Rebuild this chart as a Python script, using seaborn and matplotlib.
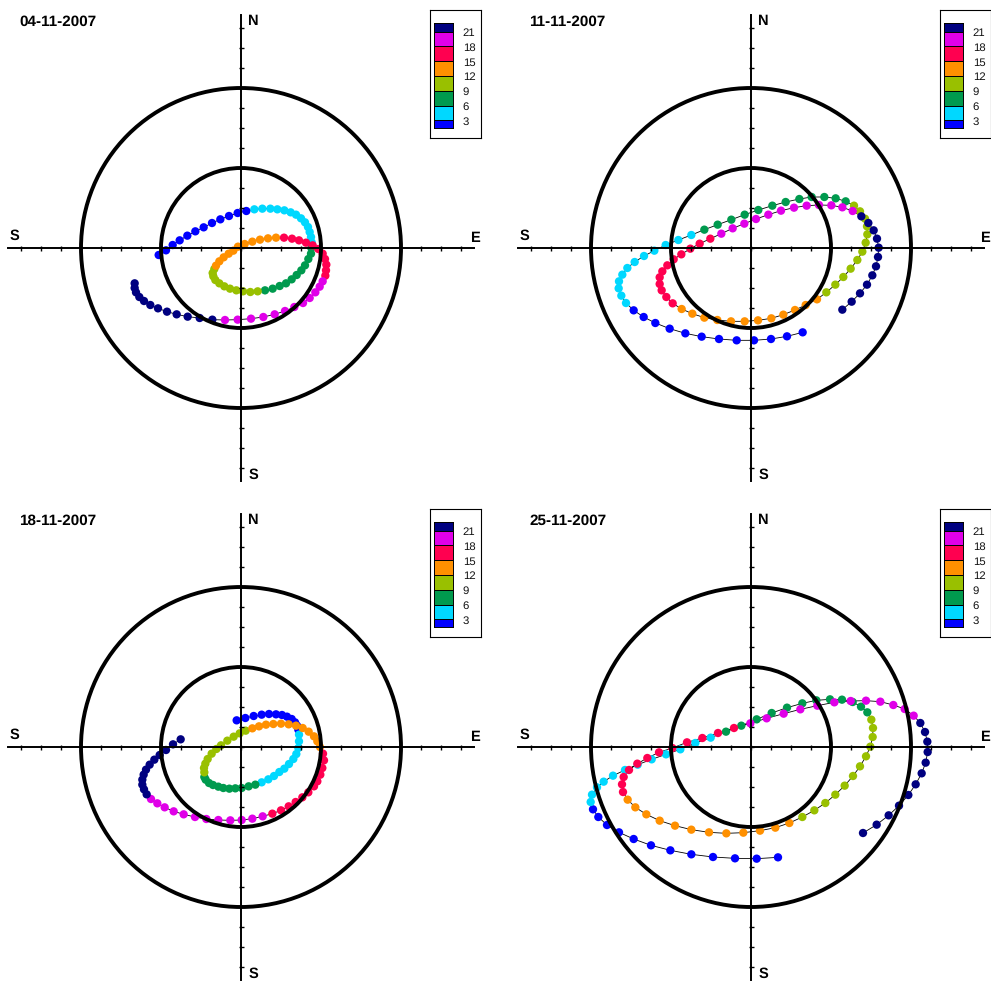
import pandas as pd
import matplotlib
matplotlib.use("Agg")
import matplotlib.pyplot as plt
import seaborn as sns

# 60 units = one axis tick, rings at 240 and 480
dates = ["04-11-2007", "11-11-2007", "18-11-2007", "25-11-2007"]
bands = ["0-3", "3-6", "6-9", "9-12", "12-15", "15-18", "18-21", "21-24"]
band_colors = ["#0000FF", "#00D8FF", "#009A4E", "#99C000", "#FF9000", "#FF0050", "#E000E8", "#000080"]
legend_edges = [1.5, 3, 6, 9, 12, 15, 18, 21, 22.7]
legend_ticks = [3, 6, 9, 12, 15, 18, 21]

panel1 = [
    [(-247,-21),(-225,-7),(-205,9),(-184,23),(-161,37),(-137,50),(-112,62),(-87,75),(-62,86),(-36,96),(-10,105),(16,111)],
    [(40,116),(64,118),(88,118),(109,116),(130,113),(149,107),(165,100),(180,89),(192,77),(201,63),(206,48),(210,33),(212,17)],
    [(211,0),(210,-17),(202,-33),(192,-52),(181,-67),(167,-81),(152,-94),(135,-106),(116,-114),(95,-122),(72,-127)],
    [(50,-130),(28,-132),(6,-130),(-14,-127),(-33,-122),(-50,-115),(-65,-106),(-77,-96),(-83,-85),(-85,-75),(-80,-63)],
    [(-75,-53),(-65,-40),(-52,-28),(-37,-17),(-23,-8),(-9,4),(11,12),(34,19),(57,25),(81,29),(105,31)],
    [(129,31),(153,28),(174,23),(195,16),(215,8),(232,-3),(245,-17),(252,-33),(256,-50),(255,-67),(253,-83)],
    [(245,-100),(236,-116),(223,-133),(206,-150),(186,-165),(160,-177),(132,-189),(101,-199),(67,-207),(30,-212),(-10,-215),(-48,-216)],
    [(-86,-215),(-124,-210),(-160,-206),(-193,-199),(-222,-191),(-249,-181),(-272,-171),(-291,-159),(-305,-147),(-315,-133),(-319,-120),(-319,-106)],
]
panel2 = [
    [(155,-253),(108,-265),(60,-273),(9,-277),(-43,-277),(-96,-273),(-148,-266),(-197,-256),(-244,-242),(-287,-225),(-322,-207),(-352,-187)],
    [(-375,-165),(-389,-143),(-397,-121),(-396,-100),(-386,-80),(-371,-60),(-349,-42),(-321,-24),(-290,-8),(-256,9),(-218,24),(-179,39)],
    [(-140,55),(-100,70),(-59,85),(-19,100),(22,114),(64,127),(104,138),(145,147),(182,153),(220,153),(254,149),(284,140)],
    [(309,127),(327,110),(342,88),(348,65),(349,41),(344,16),(334,-11),(319,-36),(299,-62),(277,-87),(253,-110),(226,-133)],
    [(198,-154),(164,-171),(132,-186),(97,-200),(61,-211),(21,-217),(-19,-220),(-60,-220),(-101,-216),(-140,-209),(-176,-197),(-208,-183)],
    [(-235,-166),(-254,-147),(-268,-127),(-274,-108),(-274,-88),(-266,-70),(-251,-52),(-232,-34),(-209,-19),(-182,-2),(-154,13),(-122,28)],
    [(-89,43),(-55,59),(-20,73),(15,87),(52,100),(90,112),(129,121),(167,127),(204,129),(241,128),(274,122),(305,111)],
    [(331,95),(352,75),(368,53),(378,28),(383,1),(381,-27),(375,-55),(364,-82),(348,-110),(327,-136),(302,-161),(274,-185)],
]
panel3 = [
    [(-13,80),(13,87),(38,93),(62,97),(84,99),(105,98),(123,96),(138,91),(152,84),(162,74),(168,64),(172,52)],
    [(174,37),(174,17),(172,-3),(166,-21),(157,-36),(144,-51),(130,-65),(115,-75),(99,-87),(82,-97),(62,-106)],
    [(43,-113),(23,-118),(2,-123),(-17,-124),(-35,-125),(-53,-123),(-68,-119),(-84,-114),(-96,-108),(-106,-98),(-110,-90)],
    [(-110,-76),(-111,-63),(-107,-50),(-100,-36),(-88,-20),(-74,-6),(-60,5),(-41,19),(-22,31),(-4,41),(14,49)],
    [(34,56),(54,62),(75,67),(97,69),(120,70),(143,68),(165,64),(185,57),(203,46),(219,32),(229,17),(237,0)],
    [(246,-20),(249,-40),(244,-63),(238,-83),(229,-103),(219,-118),(202,-136),(184,-151),(164,-165),(143,-178),(120,-190),(94,-200)],
    [(65,-208),(34,-215),(2,-219),(-32,-220),(-68,-219),(-104,-216),(-138,-210),(-172,-202),(-202,-193),(-229,-181),(-251,-169),(-270,-156)],
    [(-283,-142),(-291,-127),(-296,-113),(-296,-98),(-292,-83),(-285,-68),(-274,-53),(-260,-38),(-244,-24),(-225,-9),(-204,8),(-181,23)],
]
panel4 = [
    [(81,-331),(17,-335),(-48,-334),(-114,-330),(-179,-322),(-242,-310),(-300,-295),(-352,-276),(-396,-256),(-432,-234),(-458,-210),(-474,-187)],
    [(-481,-165),(-477,-143),(-462,-121),(-442,-104),(-414,-86),(-378,-69),(-340,-53),(-298,-37),(-255,-22),(-212,-7),(-167,12),(-121,28)],
    [(-75,46),(-29,64),(17,83),(62,102),(108,118),(154,131),(196,140),(237,143),(273,142),(305,135),(330,121),(349,104)],
    [(361,82),(366,57),(365,30),(358,1),(345,-28),(327,-58),(306,-87),(281,-116),(253,-143),(223,-168),(190,-190),(154,-210)],
    [(115,-228),(73,-242),(27,-251),(-23,-257),(-74,-259),(-126,-256),(-179,-248),(-228,-236),(-274,-221),(-314,-202),(-347,-181),(-370,-158)],
    [(-384,-135),(-387,-112),(-382,-90),(-366,-69),(-341,-50),(-311,-33),(-276,-16),(-236,-3),(-192,14),(-146,27),(-99,42),(-51,57)],
    [(-2,71),(47,86),(98,100),(148,113),(199,124),(250,134),(299,138),(345,139),(388,136),(427,126),(461,114),(488,94)],
    [(508,72),(522,45),(529,16),(530,-15),(524,-47),(512,-79),(494,-112),(472,-144),(444,-176),(413,-205),(377,-233),(336,-258)],
]
panels = [panel1, panel2, panel3, panel4]
centers = [(241, 248), (751, 248), (241, 747), (751, 747)]

sns.set_theme(style="white")
plt.rcParams["font.family"] = ["Liberation Sans", "DejaVu Sans"]
plt.rcParams["text.hinting"] = "none"

W, H = 991, 981
fig = plt.figure(figsize=(W / 100, H / 100), dpi=100)
half = 700 / 3  # axes half width in pixels


def to_frame(panel):
    rows = []
    for band, pts in zip(bands, panel):
        for x, y in pts:
            rows.append({"x": x, "y": y, "band": band})
    return pd.DataFrame(rows)


def draw_legend(ax):
    # frame first, colour stack inside it
    box = ax.inset_axes([567, 330, 153, 384], transform=ax.transData)
    box.set_xticks([])
    box.set_yticks([])
    box.patch.set_facecolor("white")
    for s in box.spines.values():
        s.set_visible(True)
        s.set_color("black")
        s.set_linewidth(0.8)

    stack = ax.inset_axes([579, 361, 57, 313], transform=ax.transData, zorder=6)
    for i, c in enumerate(band_colors):
        low, up = legend_edges[i], legend_edges[i + 1]
        stack.bar(0, up - low, bottom=low, width=1, color=c, edgecolor="black", linewidth=0.7)
    stack.set_xlim(-0.5, 0.5)
    stack.set_ylim(legend_edges[0], legend_edges[-1])
    stack.set_xticks([])
    stack.set_yticks([])
    # labels sit a little below their band edge
    for t in legend_ticks:
        stack.text(1.01, t - 0.32, str(t), fontsize=8.2, color="#111111", ha="left", va="center", clip_on=False)
    for s in stack.spines.values():
        s.set_visible(True)
        s.set_color("black")
        s.set_linewidth(0.7)


for date, panel, (cx, cy) in zip(dates, panels, centers):
    ax = fig.add_axes([(cx - half) / W, (H - cy - half) / H, 2 * half / W, 2 * half / H])
    df = to_frame(panel)

    sns.lineplot(data=df, x="x", y="y", sort=False, estimator=None, color="black",
                 linewidth=0.6, zorder=2, ax=ax)
    sns.scatterplot(data=df, x="x", y="y", hue="band", palette=dict(zip(bands, band_colors)),
                    s=36, linewidth=0, legend=False, zorder=2.2, ax=ax)

    for r in (240, 480):
        ax.add_patch(plt.Circle((0, 0), r, fill=False, color="black", lw=2.8, zorder=2.6))

    ax.set_xlim(-700, 700)
    ax.set_ylim(-700, 700)
    ax.patch.set_alpha(0)
    ax.set_xlabel("")
    ax.set_ylabel("")
    ax.spines["top"].set_visible(False)
    ax.spines["right"].set_visible(False)
    for side in ("left", "bottom"):
        ax.spines[side].set_position(("data", 0))
        ax.spines[side].set_color("black")
        ax.spines[side].set_linewidth(1.4)
    ax.set_axisbelow(False)
    ax.set_xticks(range(-660, 661, 60))
    ax.set_yticks(range(-660, 661, 60))
    ax.tick_params(direction="inout", length=3.6, width=1.0, color="black",
                   bottom=True, left=True, labelbottom=False, labelleft=False)

    ax.text(-666, 678, date, fontsize=11, fontweight="bold", color="black", ha="left", va="center")
    ax.text(33, 682, "N", fontsize=10.5, fontweight="bold", color="black", ha="center", va="center")
    ax.text(36, -682, "S", fontsize=10.5, fontweight="bold", color="black", ha="center", va="center")
    ax.text(-681, 37, "S", fontsize=10.5, fontweight="bold", color="black", ha="center", va="center", clip_on=False)
    ax.text(703, 31, "E", fontsize=10.5, fontweight="bold", color="black", ha="center", va="center", clip_on=False)

    draw_legend(ax)

fig.savefig("out.png", dpi=100)
